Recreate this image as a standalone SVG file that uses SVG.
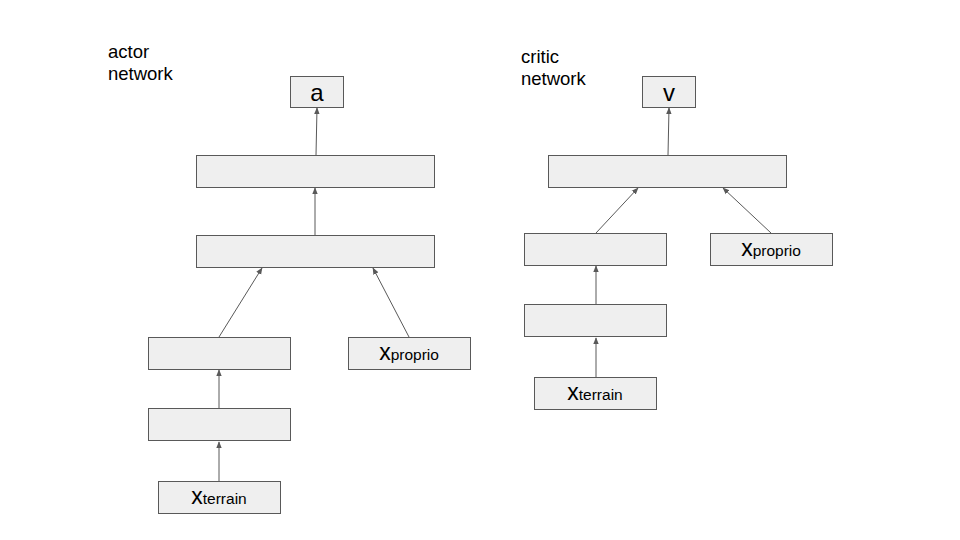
<svg xmlns="http://www.w3.org/2000/svg" width="960" height="540" viewBox="0 0 960 540">
<defs>
<style>
.b{fill:#efefef;stroke:#595959;stroke-width:1}
.t{font-family:"Liberation Sans",Arial,sans-serif;fill:#000}
.c{stroke:#595959;stroke-width:1;fill:none;marker-end:url(#ah)}
.x{font-size:23px}
.s{font-size:15.5px}
</style>
<marker id="ah" viewBox="0 0 10 10" refX="9" refY="5" markerWidth="7" markerHeight="7" markerUnits="userSpaceOnUse" orient="auto">
<path d="M0,1 L10,5 L0,9 z" fill="#595959"/>
</marker>
</defs>
<rect width="960" height="540" fill="#fff"/>
<text class="t" x="108" y="58" font-size="18.5">actor</text>
<text class="t" x="108" y="80" font-size="18.5">network</text>
<text class="t" x="521" y="63" font-size="18.5">critic</text>
<text class="t" x="521" y="85" font-size="18.5">network</text>
<g id="connectors">
<line class="c" x1="316" y1="155" x2="317" y2="108"/>
<line class="c" x1="315" y1="235" x2="315" y2="188"/>
<line class="c" x1="219" y1="337" x2="262" y2="268"/>
<line class="c" x1="409" y1="337" x2="373" y2="268"/>
<line class="c" x1="219" y1="408" x2="219" y2="370"/>
<line class="c" x1="219" y1="481" x2="219" y2="442"/>
<line class="c" x1="668" y1="155" x2="669" y2="108"/>
<line class="c" x1="596" y1="233" x2="638" y2="188"/>
<line class="c" x1="771" y1="233" x2="723" y2="188"/>
<line class="c" x1="596" y1="304" x2="596" y2="266"/>
<line class="c" x1="596" y1="377" x2="596" y2="338"/>
</g>
<g id="actor_a"><rect class="b" x="290.5" y="76.5" width="53" height="31"/><text class="t" x="317" y="101" font-size="24" text-anchor="middle">a</text></g>
<g id="actor_h1"><rect class="b" x="196.5" y="155.5" width="238" height="32"/></g>
<g id="actor_h2"><rect class="b" x="196.5" y="235.5" width="238" height="32"/></g>
<g id="actor_t1"><rect class="b" x="148.5" y="337.5" width="142" height="32"/></g>
<g id="actor_t2"><rect class="b" x="148.5" y="408.5" width="142" height="32"/></g>
<g id="actor_xterrain"><rect class="b" x="158.5" y="481.5" width="122" height="32"/><text class="t" x="219" y="504" text-anchor="middle"><tspan class="x">x</tspan><tspan class="s">terrain</tspan></text></g>
<g id="actor_xproprio"><rect class="b" x="348.5" y="337.5" width="122" height="32"/><text class="t" x="409" y="360" text-anchor="middle"><tspan class="x">x</tspan><tspan class="s">proprio</tspan></text></g>
<g id="critic_v"><rect class="b" x="642.5" y="76.5" width="53" height="31"/><text class="t" x="669" y="101" font-size="24" text-anchor="middle">v</text></g>
<g id="critic_h1"><rect class="b" x="548.5" y="155.5" width="238" height="32"/></g>
<g id="critic_t1"><rect class="b" x="524.5" y="233.5" width="142" height="32"/></g>
<g id="critic_t2"><rect class="b" x="524.5" y="304.5" width="142" height="32"/></g>
<g id="critic_xterrain"><rect class="b" x="534.5" y="377.5" width="122" height="32"/><text class="t" x="595" y="400" text-anchor="middle"><tspan class="x">x</tspan><tspan class="s">terrain</tspan></text></g>
<g id="critic_xproprio"><rect class="b" x="710.5" y="233.5" width="122" height="32"/><text class="t" x="771" y="256" text-anchor="middle"><tspan class="x">x</tspan><tspan class="s">proprio</tspan></text></g>
</svg>
